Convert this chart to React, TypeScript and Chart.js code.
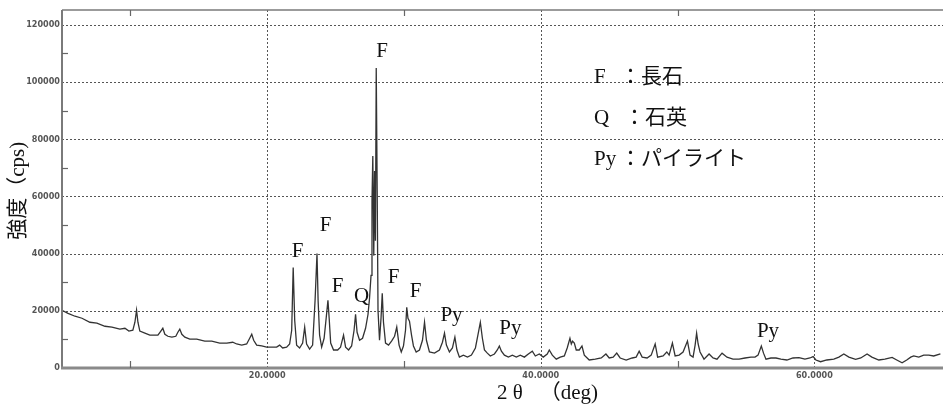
import { useEffect, useRef } from "react";
import { Chart, registerables } from "chart.js";

Chart.register(...registerables);

// 2θ (deg) sample positions
const twoTheta = [
  5.00, 5.44, 5.95, 6.46, 7.04, 7.55, 8.14, 8.65, 9.23, 9.60,
  9.89, 10.18, 10.33, 10.45, 10.55, 10.69, 11.06, 11.42, 11.79, 12.01,
  12.16, 12.37, 12.52, 12.74, 13.03, 13.32, 13.47, 13.61, 13.76, 13.98,
  14.34, 14.85, 15.44, 15.95, 16.53, 17.04, 17.48, 17.77, 18.14, 18.50,
  18.72, 18.87, 19.01, 19.23, 19.60, 19.96, 20.33, 20.69, 20.91, 21.13,
  21.42, 21.64, 21.79, 21.90, 22.01, 22.15, 22.37, 22.59, 22.74, 22.88,
  23.10, 23.32, 23.50, 23.64, 23.72, 23.83, 23.98, 24.16, 24.31, 24.44,
  24.53, 24.64, 24.85, 25.15, 25.36, 25.58, 25.73, 25.95, 26.17, 26.35,
  26.46, 26.57, 26.75, 26.97, 27.19, 27.37, 27.48, 27.59, 27.66, 27.72,
  27.79, 27.85, 27.91, 27.97, 28.04, 28.10, 28.21, 28.32, 28.41, 28.50,
  28.65, 28.87, 29.09, 29.31, 29.47, 29.64, 29.80, 29.96, 30.11, 30.20,
  30.29, 30.40, 30.55, 30.69, 30.89, 31.13, 31.35, 31.50, 31.64, 31.86,
  32.23, 32.59, 32.81, 32.96, 33.10, 33.32, 33.54, 33.72, 33.87, 34.05,
  34.34, 34.64, 34.93, 35.22, 35.44, 35.58, 35.73, 35.88, 36.09, 36.31,
  36.61, 36.82, 36.97, 37.12, 37.34, 37.63, 37.92, 38.21, 38.50, 38.80,
  39.09, 39.38, 39.60, 39.89, 40.18, 40.47, 40.62, 40.84, 41.13, 41.42,
  41.72, 41.93, 42.13, 42.23, 42.32, 42.45, 42.59, 42.81, 43.01, 43.18,
  43.54, 43.98, 44.42, 44.76, 45.00, 45.29, 45.55, 45.80, 46.24, 46.68,
  46.97, 47.19, 47.41, 47.77, 48.07, 48.36, 48.54, 48.94, 49.21, 49.38,
  49.62, 49.82, 50.11, 50.40, 50.72, 50.91, 51.13, 51.28, 51.39, 51.50,
  51.64, 51.93, 52.30, 52.59, 52.88, 53.25, 53.61, 54.05, 54.49, 54.93,
  55.36, 55.66, 55.88, 56.12, 56.28, 56.46, 56.82, 57.19, 57.55, 57.99,
  58.43, 58.87, 59.31, 59.67, 59.91, 60.11, 60.45, 60.91, 61.42, 61.79,
  62.15, 62.52, 63.01, 63.39, 63.85, 64.20, 64.71, 65.15, 65.68, 66.02,
  66.41, 66.75, 67.04, 67.26, 67.63, 67.99, 68.36, 68.72, 69.21,
];

// Intensity (cps)
const intensity = [
  20200, 19100, 18100, 17400, 16000, 15700, 14600, 14300, 13600, 13900,
  12900, 13200, 16000, 20200, 16000, 12900, 12200, 11500, 11500, 11500,
  12500, 13900, 11800, 11100, 10800, 11100, 12500, 13600, 11800, 10800,
  10100, 10100, 9400, 9400, 8700, 8700, 9000, 8400, 8000, 8400,
  10400, 11800, 9700, 8000, 7700, 7300, 7300, 7300, 8000, 7000,
  7300, 8400, 13200, 35100, 16700, 8000, 7000, 8700, 14300, 8400,
  6600, 8000, 23700, 40000, 23700, 11500, 7300, 10400, 17400, 23700,
  17400, 8700, 6300, 6300, 7300, 11500, 7300, 6300, 7700, 13200,
  18800, 12500, 9700, 10400, 13900, 18800, 24400, 32400, 58500, 74100,
  39300, 68900, 44500, 104900, 61900, 20200, 9700, 17400, 26100, 16000,
  8700, 8000, 9400, 11100, 14300, 8000, 5600, 7700, 13200, 21200,
  17400, 16400, 11500, 7700, 5600, 6300, 9700, 16000, 9700, 5600,
  5200, 6300, 9000, 12200, 8000, 5600, 7000, 10800, 6300, 3800,
  4500, 3800, 4500, 7000, 12500, 16000, 10400, 6300, 5200, 4200,
  4900, 6300, 7700, 5900, 4500, 3800, 4500, 3800, 4500, 3800,
  4900, 5900, 4200, 4900, 3800, 4900, 6300, 4500, 3100, 3800,
  4200, 7000, 10400, 8400, 9400, 8700, 6300, 6300, 7700, 4500,
  2800, 3100, 3500, 4900, 3500, 3800, 5200, 3500, 2800, 3500,
  3800, 5900, 3800, 3500, 4500, 8400, 3800, 4200, 5600, 4500,
  8700, 4200, 4500, 5600, 9400, 4500, 3800, 8000, 12200, 8400,
  5600, 3100, 4900, 3500, 3100, 5200, 3800, 3100, 3100, 3500,
  3800, 3800, 4500, 7700, 5200, 3100, 3500, 3500, 3100, 2800,
  3500, 3600, 3100, 3500, 4000, 2800, 2200, 2800, 3100, 3800,
  4900, 3800, 3000, 3500, 4900, 3800, 2800, 3100, 3700, 2800,
  1800, 2800, 3800, 4200, 3800, 4500, 4500, 4200, 4900,
];

const xMajorTicks = [20, 40, 60];
const xTickLabels = ["20.0000", "40.0000", "60.0000"];
const xMinorTicks = [10, 30, 50];
const yTicks = [0, 20000, 40000, 60000, 80000, 100000, 120000];
const yTickLabels = ["0", "20000", "40000", "60000", "80000", "100000", "120000"];
const yMinorTicks = [10000, 30000, 50000, 70000, 90000, 110000];

const peakLabels = ["F", "F", "F", "F", "Q", "F", "F", "Py", "Py", "Py"];
const peakLabelX = [28.4, 22.23, 24.27, 25.15, 26.9, 29.23, 30.84, 33.47, 37.77, 56.61];
const peakLabelY = [108700, 38800, 47900, 26600, 23100, 29700, 24800, 16400, 11900, 10800];

const legendKeys = ["F", "Q", "Py"];
const legendNames = ["：長石", "：石英", "：パイライト"];

const xTitleVar = "2 θ";
const xTitleUnit = "（deg)";
const yTitle = "強度（cps)";

const SERIF = "'Liberation Serif', 'DejaVu Serif', 'Noto Sans CJK JP', serif";
const TICKFONT = "bold 9px 'DejaVu Sans Condensed', 'DejaVu Sans', sans-serif";

const decorPlugin = {
  id: "decor",
  beforeDatasetsDraw(chart: any) {
    const { ctx, chartArea: a, scales } = chart;
    const x = scales.x;
    const y = scales.y;
    ctx.save();
    ctx.strokeStyle = "#555";
    ctx.lineWidth = 1;
    ctx.setLineDash([2, 2]);
    for (const v of yTicks) {
      if (v === 0) continue;
      const py = Math.round(y.getPixelForValue(v)) + 0.5;
      ctx.beginPath();
      ctx.moveTo(a.left, py);
      ctx.lineTo(a.right, py);
      ctx.stroke();
    }
    for (const v of xMajorTicks) {
      const px = Math.round(x.getPixelForValue(v)) + 0.5;
      ctx.beginPath();
      ctx.moveTo(px, a.top);
      ctx.lineTo(px, a.bottom);
      ctx.stroke();
    }
    ctx.setLineDash([]);
    ctx.restore();
  },
  afterDatasetsDraw(chart: any) {
    const { ctx, chartArea: a, scales } = chart;
    const x = scales.x;
    const y = scales.y;
    ctx.save();
    ctx.strokeStyle = "#7a7a7a";
    ctx.lineWidth = 2;
    ctx.beginPath();
    ctx.moveTo(a.left, a.top);
    ctx.lineTo(a.left, a.bottom);
    ctx.stroke();
    ctx.lineWidth = 1.5;
    ctx.beginPath();
    ctx.moveTo(a.left, a.top);
    ctx.lineTo(a.right, a.top);
    ctx.stroke();
    ctx.strokeStyle = "#8a8a8a";
    ctx.lineWidth = 3;
    ctx.beginPath();
    ctx.moveTo(a.left - 1, a.bottom);
    ctx.lineTo(a.right, a.bottom);
    ctx.stroke();
    ctx.strokeStyle = "#666";
    ctx.lineWidth = 1.2;
    for (const v of yMinorTicks) {
      const py = Math.round(y.getPixelForValue(v)) + 0.5;
      ctx.beginPath();
      ctx.moveTo(a.left, py);
      ctx.lineTo(a.left + 6, py);
      ctx.stroke();
    }
    for (const v of xMinorTicks) {
      const px = Math.round(x.getPixelForValue(v)) + 0.5;
      ctx.beginPath();
      ctx.moveTo(px, a.bottom);
      ctx.lineTo(px, a.bottom - 7);
      ctx.moveTo(px, a.top);
      ctx.lineTo(px, a.top + 6);
      ctx.stroke();
    }
    ctx.fillStyle = "#555";
    ctx.font = TICKFONT;
    ctx.textAlign = "right";
    ctx.textBaseline = "middle";
    yTicks.forEach((v, i) => {
      ctx.fillText(yTickLabels[i], a.left - 2, y.getPixelForValue(v));
    });
    ctx.textAlign = "center";
    ctx.textBaseline = "top";
    xMajorTicks.forEach((v, i) => {
      ctx.fillText(xTickLabels[i], x.getPixelForValue(v), a.bottom + 3);
    });
    // axis titles
    ctx.fillStyle = "#111";
    ctx.font = `21px ${SERIF}`;
    ctx.textBaseline = "alphabetic";
    ctx.textAlign = "left";
    ctx.fillText(xTitleVar, x.getPixelForValue(36.8), 399);
    ctx.textAlign = "right";
    ctx.fillText(xTitleUnit, x.getPixelForValue(44.18), 399);
    ctx.textAlign = "center";
    ctx.save();
    ctx.translate(24, y.getPixelForValue(62000));
    ctx.rotate(-Math.PI / 2);
    ctx.fillText(yTitle, 0, 0);
    ctx.restore();
    peakLabels.forEach((t, i) => {
      ctx.fillText(t, x.getPixelForValue(peakLabelX[i]), y.getPixelForValue(peakLabelY[i]));
    });
    ctx.textAlign = "left";
    const lx = a.left + (a.right - a.left) * 0.604;
    legendKeys.forEach((k, i) => {
      const by = a.top + 73 + i * 41;
      ctx.fillText(k, lx, by);
      ctx.fillText(legendNames[i], lx + (i === 1 ? 30 : 26), by);
    });
    ctx.restore();
  },
};

export default function App() {
  const ref = useRef<HTMLCanvasElement>(null);
  useEffect(() => {
    document.body.style.margin = "0";
    const canvas = ref.current!;
    const points = twoTheta.map((t, i) => ({ x: t, y: intensity[i] }));
    const chart = new Chart(canvas, {
      type: "line",
      data: {
        datasets: [
          {
            data: points,
            borderColor: "#333",
            borderWidth: 1.3,
            pointRadius: 0,
            tension: 0,
            fill: false,
          },
        ],
      },
      options: {
        responsive: false,
        animation: false,
        devicePixelRatio: 1,
        layout: { padding: { left: 62, top: 10, right: 0, bottom: 37 } },
        plugins: { legend: { display: false }, tooltip: { enabled: false } },
        scales: {
          x: { type: "linear", min: 5, max: 69.4, display: false },
          y: { type: "linear", min: 0, max: 125200, display: false },
        },
      },
      plugins: [decorPlugin],
    });
    return () => chart.destroy();
  }, []);
  return (
    <div style={{ width: 943, height: 405, background: "#fff" }}>
      <canvas ref={ref} width={943} height={405} />
    </div>
  );
}
